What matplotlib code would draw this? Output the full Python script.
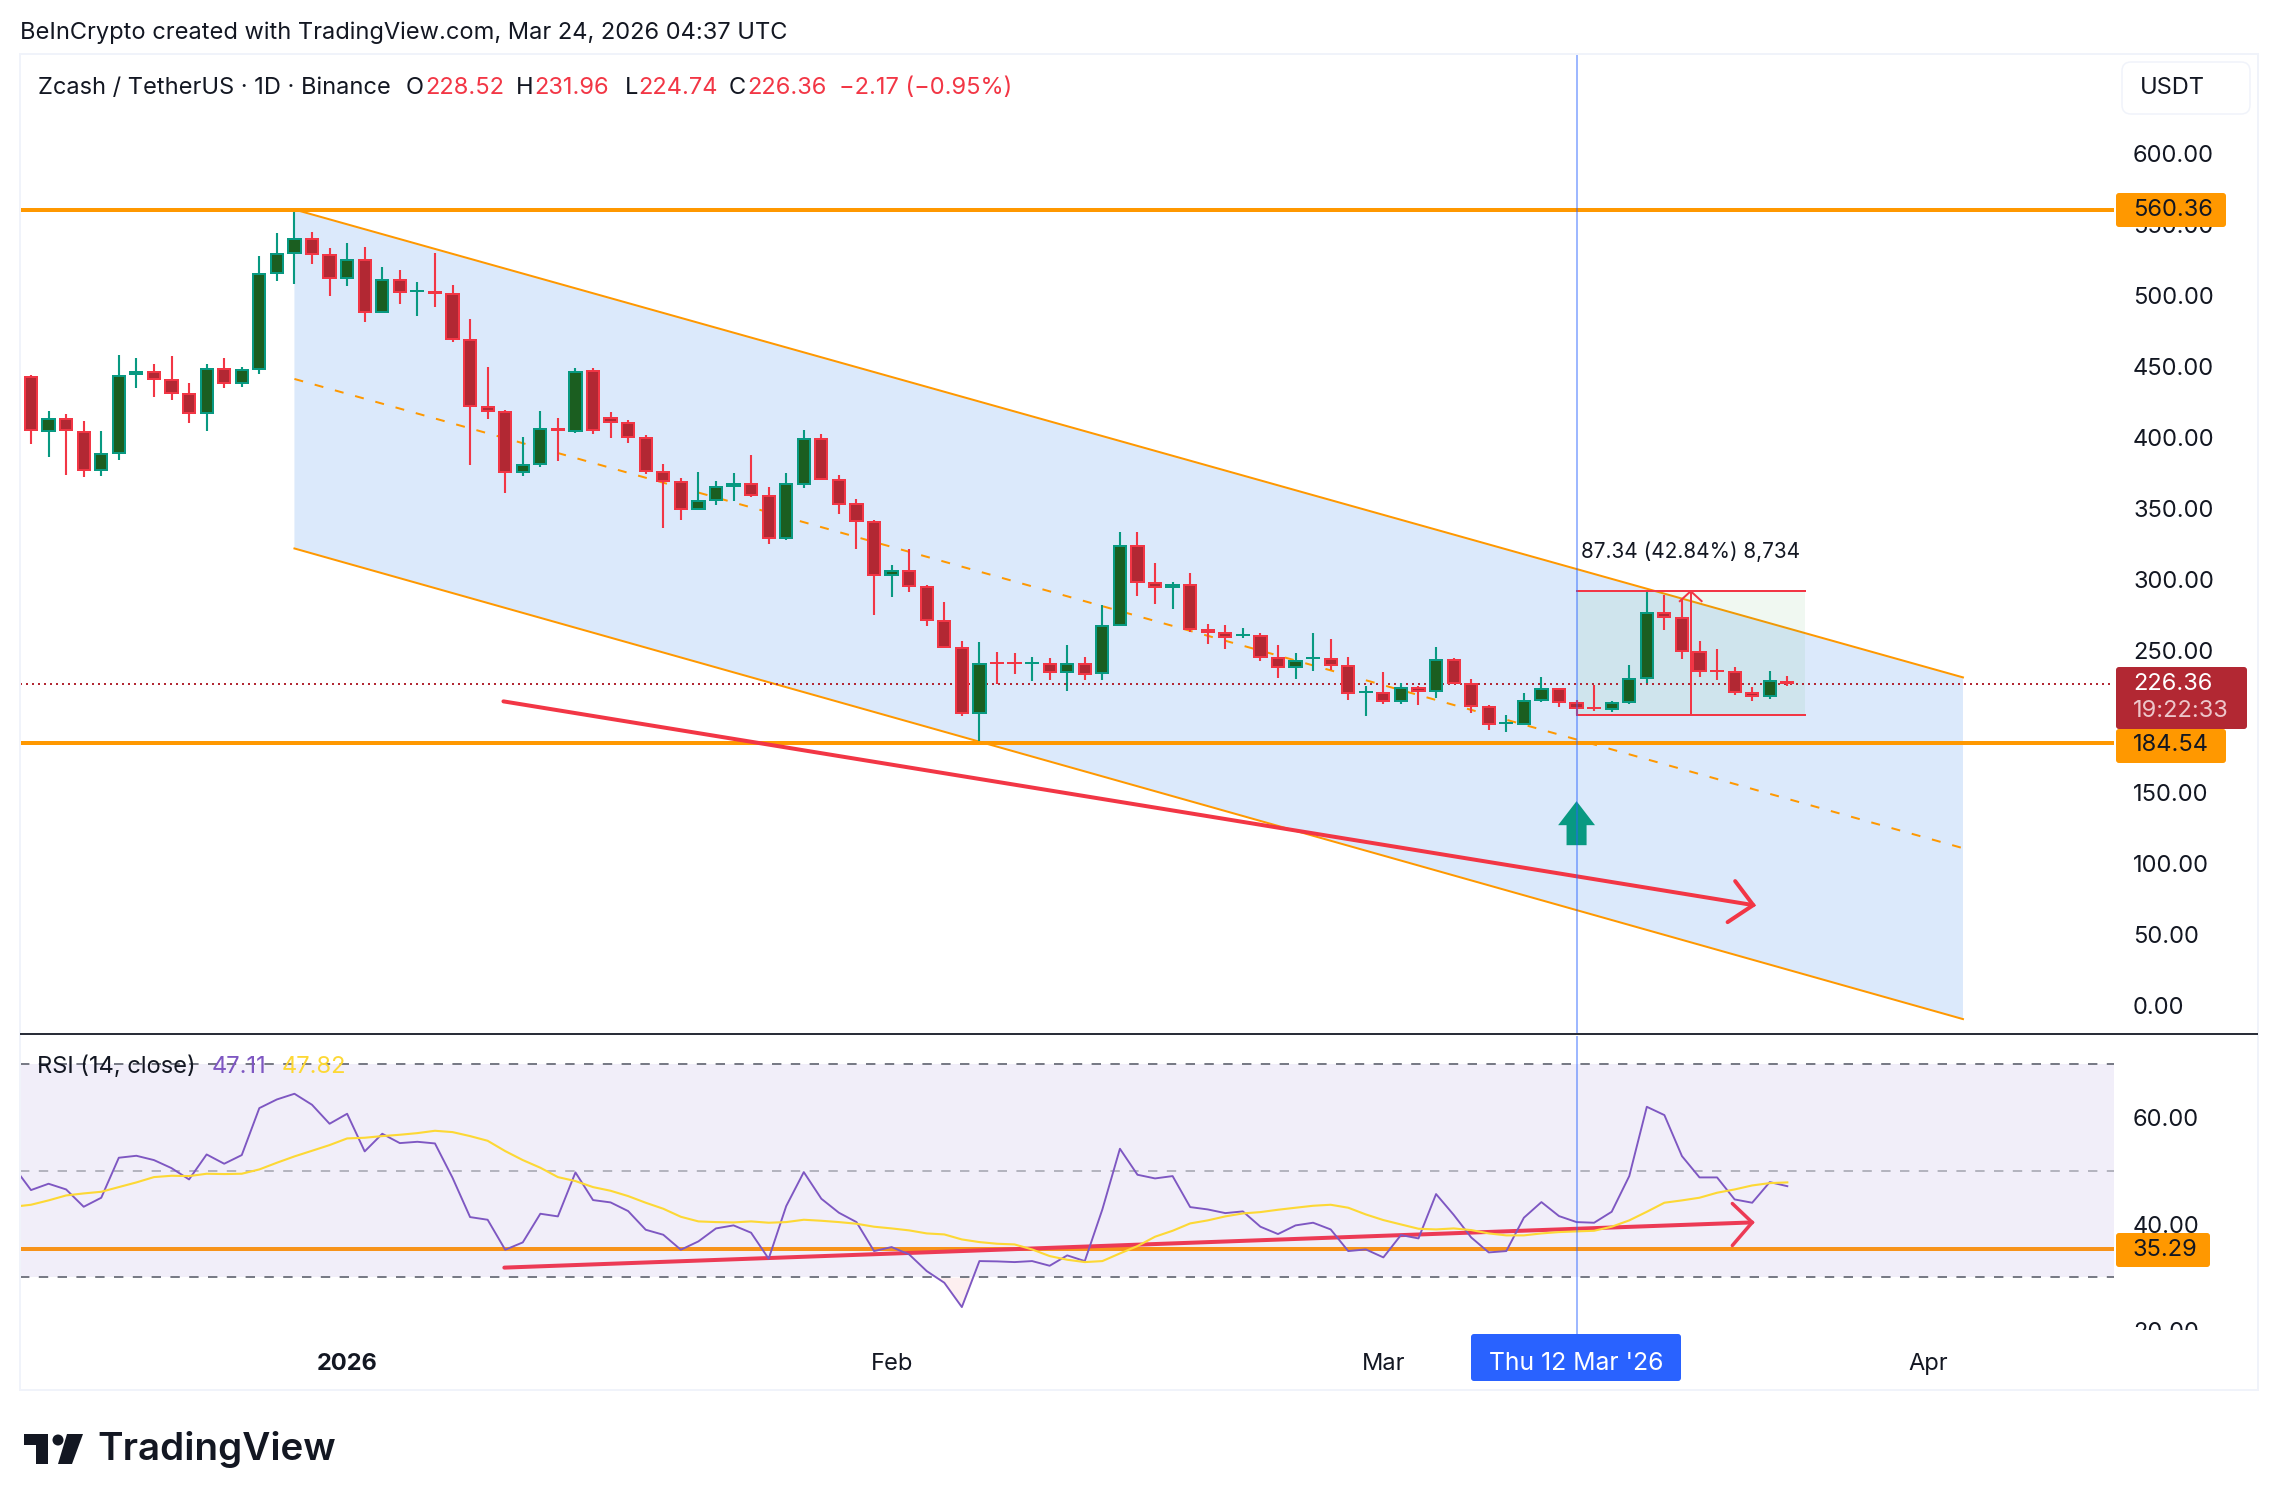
import matplotlib
matplotlib.use("Agg")
import matplotlib.pyplot as plt
from matplotlib.patches import Rectangle, FancyBboxPatch, Polygon, Circle
from matplotlib.transforms import Affine2D

plt.rcParams["font.family"] = ["Inter", "DejaVu Sans"]

W, H = 2278, 1510

# daily candles, index 0 is 14 Dec 2025, index 100 is 24 Mar 2026
opens = [443.4, 403.5, 413.8, 404.6, 376.0, 388.0, 443.6, 446.9, 441.2, 431.4,
         416.6, 449.0, 437.7, 447.6, 515.1, 529.2, 540.5, 529.2, 511.6, 525.7,
         487.7, 511.6, 502.5, 503.2, 501.8, 469.4, 422.2, 418.7, 375.1, 380.7,
         406.8, 403.9, 447.6, 414.5, 410.9, 400.4, 376.5, 369.4, 349.0, 355.3,
         365.2, 368.0, 359.6, 328.6, 366.6, 399.7, 370.8, 353.9, 340.6, 302.5,
         306.1, 295.5, 270.9, 251.9, 204.7, 241.3, 241.3, 239.9, 240.6, 233.6,
         240.6, 232.9, 266.7, 323.7, 297.7, 293.5, 296.3, 264.6, 262.5, 259.7,
         260.4, 244.9, 237.2, 243.5, 244.2, 239.3, 219.6, 220.3, 213.2, 223.8,
         220.3, 243.5, 226.6, 210.4, 197.7, 197.0, 213.9, 223.1, 213.2, 209.7,
         207.6, 212.5, 229.4, 277.2, 273.0, 249.1, 235.7, 235.0, 220.2, 216.7,
         228.52]
highs = [444.1, 418.7, 416.6, 411.7, 404.6, 458.1, 456.0, 451.8, 457.4, 438.4,
         451.8, 456.0, 449.7, 527.8, 544.0, 560.2, 544.7, 533.4, 537.0, 534.1,
         520.1, 518.0, 509.5, 529.9, 507.4, 483.5, 449.7, 419.4, 400.4, 418.7,
         413.8, 449.0, 449.0, 418.0, 412.3, 401.8, 381.4, 371.5, 375.7, 369.4,
         375.0, 387.7, 365.2, 375.0, 405.3, 402.5, 373.6, 356.7, 342.0, 310.3,
         320.9, 296.2, 283.6, 256.1, 255.4, 248.4, 247.7, 245.5, 244.8, 253.3,
         245.5, 281.5, 332.9, 332.9, 311.1, 297.7, 304.0, 268.1, 267.4, 265.3,
         261.8, 253.3, 247.7, 261.8, 257.6, 244.9, 224.5, 234.3, 226.6, 224.5,
         251.9, 244.2, 229.4, 211.1, 204.1, 219.5, 230.8, 223.1, 214.6, 225.2,
         213.9, 239.2, 291.3, 288.5, 285.7, 256.1, 250.5, 237.8, 223.8, 235.0,
         231.96]
lows = [395.5, 386.3, 373.7, 371.6, 372.3, 384.2, 434.9, 428.6, 426.5, 410.3,
        404.6, 434.9, 435.6, 444.8, 510.2, 508.1, 522.2, 499.7, 506.7, 481.4,
        487.7, 494.0, 485.6, 491.9, 467.3, 380.7, 413.1, 361.0, 372.3, 379.3,
        383.5, 403.2, 402.5, 399.7, 396.2, 374.3, 336.3, 342.0, 349.0, 352.5,
        355.3, 358.2, 325.1, 327.9, 364.5, 370.1, 346.2, 320.9, 274.4, 287.1,
        290.6, 266.7, 251.2, 203.3, 185.0, 225.8, 232.9, 228.0, 228.7, 220.9,
        228.7, 228.7, 266.7, 287.8, 282.2, 278.7, 262.5, 254.0, 250.5, 258.3,
        242.1, 230.1, 229.4, 235.0, 235.8, 214.6, 203.4, 211.8, 211.8, 211.1,
        216.0, 225.9, 205.5, 193.5, 192.1, 197.0, 213.2, 209.7, 204.1, 206.9,
        206.2, 211.8, 226.6, 263.9, 243.5, 230.8, 228.7, 218.1, 213.9, 215.3,
        224.74]
closes = [404.2, 413.8, 404.2, 376.0, 388.5, 444.1, 446.9, 440.5, 430.7, 416.6,
          449.0, 437.7, 448.3, 515.8, 529.9, 540.5, 528.5, 511.6, 525.7, 487.7,
          511.6, 501.8, 503.9, 501.1, 468.7, 421.5, 418.0, 375.1, 381.4, 406.8,
          404.0, 446.9, 404.0, 410.2, 399.7, 375.7, 368.7, 349.0, 356.0, 365.9,
          368.0, 358.9, 328.6, 368.0, 399.7, 370.1, 352.5, 339.9, 302.5, 306.1,
          294.8, 270.2, 251.2, 204.7, 240.6, 239.9, 239.9, 241.3, 233.6, 240.6,
          232.2, 267.4, 323.7, 297.0, 293.5, 296.3, 263.9, 261.8, 258.3, 261.1,
          244.2, 237.2, 242.8, 244.9, 238.6, 218.9, 221.0, 213.2, 223.8, 220.3,
          243.5, 225.9, 209.7, 197.0, 199.2, 214.6, 223.1, 212.5, 208.3, 208.3,
          213.2, 230.1, 277.2, 272.3, 248.4, 234.3, 234.3, 219.5, 216.7, 228.7,
          226.36]

# first value of both RSI lists belongs to the day before the first candle
rsi = [50.83, 46.38, 47.57, 46.50, 43.24, 44.94, 52.46, 52.83, 52.02, 50.51,
       48.38, 53.08, 51.33, 52.96, 61.79, 63.42, 64.49, 62.42, 58.85, 60.73,
       53.65, 56.97, 55.21, 55.46, 55.15, 48.70, 41.30, 40.80, 35.16, 36.54,
       41.93, 41.43, 49.70, 44.50, 44.06, 42.43, 38.92, 37.98, 35.16, 36.73,
       39.17, 39.74, 38.36, 33.47, 43.37, 49.76, 44.75, 42.12, 40.36, 34.91,
       35.66, 34.28, 31.15, 28.96, 24.38, 33.03, 32.97, 32.84, 33.03, 32.15,
       34.10, 33.03, 42.74, 54.15, 49.26, 48.57, 49.01, 43.18, 42.74, 42.05,
       42.37, 39.49, 38.11, 39.74, 40.24, 38.98, 34.91, 35.22, 33.72, 37.92,
       37.29, 45.63, 41.74, 37.48, 34.66, 34.91, 41.18, 44.12, 41.49, 40.36,
       40.24, 42.30, 49.01, 62.04, 60.48, 52.77, 48.76, 48.76, 44.62, 44.00,
       47.88, 47.11]
rsi_ma = [43.24, 43.62, 44.44, 45.37, 45.75, 46.06, 46.94, 47.82, 48.82, 49.07,
          49.01, 49.45, 49.39, 49.45, 50.26, 51.52, 52.71, 53.77, 54.84, 56.09,
          56.22, 56.53, 56.78, 57.09, 57.53, 57.28, 56.53, 55.65, 53.71, 52.02,
          50.58, 48.82, 48.07, 46.94, 46.25, 45.25, 44.00, 42.87, 41.36, 40.49,
          40.36, 40.30, 40.49, 40.24, 40.36, 40.80, 40.61, 40.36, 40.05, 39.49,
          39.17, 38.80, 38.23, 38.04, 37.10, 36.60, 36.29, 36.16, 35.22, 33.97,
          33.28, 32.84, 33.03, 34.47, 35.85, 37.61, 38.73, 40.11, 40.68, 41.43,
          41.99, 42.24, 42.68, 43.06, 43.43, 43.62, 43.06, 41.80, 40.74, 39.92,
          39.11, 38.98, 39.17, 38.86, 38.23, 37.86, 37.86, 38.23, 38.48, 38.61,
          38.73, 39.49, 40.68, 42.30, 44.00, 44.44, 44.94, 45.88, 46.50, 47.25,
          47.69, 47.82]

price_ticks = [0, 50, 100, 150, 200, 250, 300, 350, 400, 450, 500, 550, 600]
rsi_ticks = [20, 40, 60]
date_ticks = [18, 49, 77, 108]
date_labels = ["2026", "Feb", "Mar", "Apr"]

# drawn objects on the chart, (candle index, price)
channel_top = [(15, 560.36), (110, 230.8)]
channel_mid = [(15, 441.0), (110, 110.5)]
channel_low = [(15, 321.6), (110, -9.9)]
support_hi = 560.36
support_lo = 184.54
rsi_support = 35.29
last_close = 226.36
cross_idx = 88
range_left, range_right = 88, 101
range_top, range_bottom = 291.5, 204.1
range_arrow_idx = 94.5

UP = "#089981"
DOWN = "#F23645"
UP_FILL = "#1B5E20"
DOWN_FILL = "#B22833"
ORANGE = "#FF9800"
TEXT = "#131722"
CHANNEL = "#DBE9FB"
FS = 17


def lw(pixels):
    return pixels * 0.72


fig = plt.figure(figsize=(W / 100, H / 100), dpi=100, facecolor="white")
px = Affine2D().scale(1, -1).translate(0, H)


def make_axes(left, top, right, bottom):
    a = fig.add_axes([left / W, 1 - bottom / H, (right - left) / W, (bottom - top) / H])
    a.patch.set_alpha(0)
    for s in a.spines.values():
        s.set_visible(False)
    a.yaxis.tick_right()
    a.tick_params(axis="both", length=0, labelsize=FS, labelcolor=TEXT)
    a.tick_params(axis="y", pad=13.7)
    return a


def px_text(x, y, s, **kw):
    kw.setdefault("color", TEXT)
    kw.setdefault("fontsize", FS)
    kw.setdefault("va", "center")
    return fig.text(x, y, s, transform=px, zorder=5, **kw)


def px_box(x0, y0, x1, y1, color, z=3):
    fig.patches.append(FancyBboxPatch((x0, y0), x1 - x0, y1 - y0,
                                      boxstyle="round,pad=0,rounding_size=3",
                                      fc=color, ec="none", transform=px,
                                      figure=fig, zorder=z))


# ---- main pane
ax = make_axes(20, 54, 2114, 1034)
ax.set_xlim(-0.626, 118.6)
ax.set_ylim(-20.4, 669.9)

ax.fill([channel_top[0][0], channel_top[1][0], channel_low[1][0], channel_low[0][0]],
        [channel_top[0][1], channel_top[1][1], channel_low[1][1], channel_low[0][1]],
        color=CHANNEL, lw=0, zorder=1)
ax.plot(*zip(*channel_top), color=ORANGE, lw=lw(2), zorder=2)
ax.plot(*zip(*channel_low), color=ORANGE, lw=lw(2), zorder=2)
ax.plot(*zip(*channel_mid), color=ORANGE, lw=lw(2), ls=(0, (4.5, 6)), zorder=2)

ax.axhline(last_close, color=DOWN_FILL, lw=lw(2), ls=(0, (1, 2)), zorder=2.5)

# measure box
ax.add_patch(Rectangle((range_left, range_bottom), range_right - range_left,
                       range_top - range_bottom, fc="#4CAF50", alpha=0.08, lw=0, zorder=2.2))

# candles
inset = 2 / 1.42
for i in range(len(opens)):
    up = closes[i] >= opens[i]
    edge = UP if up else DOWN
    fill = UP_FILL if up else DOWN_FILL
    ax.plot([i, i], [lows[i], highs[i]], color=edge, lw=lw(2.1), solid_capstyle="butt", zorder=3)
    top = max(opens[i], closes[i])
    bot = min(opens[i], closes[i])
    ax.bar(i, top - bot, bottom=bot, width=0.81, color=edge, lw=0, zorder=3.1)
    if top - bot > 2 * inset:
        ax.bar(i, top - bot - 2 * inset, bottom=bot + inset, width=0.58, color=fill, lw=0, zorder=3.2)

ax.axhline(support_hi, color=ORANGE, lw=lw(4), zorder=4)
ax.axhline(support_lo, color=ORANGE, lw=lw(4), zorder=4)

for p in (range_top, range_bottom):
    ax.plot([range_left, range_right], [p, p], color=DOWN, lw=lw(2), zorder=4)
ax.plot([range_arrow_idx, range_arrow_idx], [range_bottom, range_top], color=DOWN, lw=lw(2), zorder=4)
ax.plot([range_arrow_idx - 0.62, range_arrow_idx, range_arrow_idx + 0.62],
        [range_top - 7, range_top, range_top - 7], color=DOWN, lw=lw(2), zorder=4)

# falling momentum line with its arrow head
ax.plot([26.9, 98.06], [213.9, 70.4], color=DOWN, lw=lw(4), solid_capstyle="round", zorder=4.5)
ax.plot([97.03, 98.06, 96.6], [87.3, 70.4, 58.4], color=DOWN, lw=lw(4),
        solid_capstyle="round", solid_joinstyle="miter", zorder=4.5)

# green marker under the crosshair
ax.fill([cross_idx, cross_idx + 1.05, cross_idx + 0.57, cross_idx + 0.57,
         cross_idx - 0.57, cross_idx - 0.57, cross_idx - 1.05],
        [143.6, 126.7, 126.7, 112.6, 112.6, 126.7, 126.7], color=UP, lw=0, zorder=4.6)

ax.axvline(cross_idx, color="#2962FF", alpha=0.45, lw=lw(2), zorder=5)

ax.set_xticks([])
ax.set_yticks(price_ticks)
ax.set_yticklabels(["%.2f" % t for t in price_ticks])

# ---- RSI pane
ar = make_axes(20, 1036, 2114, 1345)
ar.set_xlim(-0.626, 118.6)
ar.set_ylim(17.25, 75.35)
ar.axhspan(30, 70, color="#F1EEF9", lw=0, zorder=1)
ar.axhline(70, color="#787B86", lw=lw(2), ls=(0, (4.7, 4.7)), zorder=2)
ar.axhline(30, color="#787B86", lw=lw(2), ls=(0, (4.7, 4.7)), zorder=2)
ar.axhline(50, color="#787B86", alpha=0.5, lw=lw(2), ls=(0, (4.7, 4.7)), zorder=2)

xs = list(range(-1, len(opens)))
ar.fill_between(xs, rsi, 30, where=[v < 30 for v in rsi], interpolate=True,
                color=DOWN, alpha=0.08, lw=0, zorder=1.5)
ar.axhline(rsi_support, color="#F7931A", lw=lw(4), zorder=3)
ar.plot([26.95, 98.0], [31.8, 40.3], color="#EC3A55", lw=lw(4), solid_capstyle="round", zorder=3.5)
ar.plot(xs, rsi, color="#7E57C2", lw=lw(1.9), zorder=4)
ar.plot(xs, rsi_ma, color="#FDD835", lw=lw(2.1), zorder=4.2)
ar.plot([96.87, 98.0, 96.87], [43.85, 40.3, 35.96], color="#EC3A55", lw=lw(3.5),
        solid_capstyle="round", solid_joinstyle="miter", zorder=4.5)
ar.axvline(cross_idx, color="#2962FF", alpha=0.45, lw=lw(2), zorder=5)

ar.set_yticks(rsi_ticks)
ar.set_yticklabels(["%.2f" % t for t in rsi_ticks])
ar.set_xticks(date_ticks)
ar.set_xticklabels(date_labels)
ar.tick_params(axis="x", pad=6)
ar.get_xticklabels()[0].set_fontweight("bold")

# ---- frame, separators and boxes drawn on the figure
fig.patches.append(Rectangle((20, 54), 2238, 1336, fc="none", ec="#F0F3FA", lw=lw(2),
                             transform=px, figure=fig, zorder=1))
fig.patches.append(Rectangle((2116, 1330), 140, 24, fc="white", ec="none",
                             transform=px, figure=fig, zorder=1.5))
fig.patches.append(Rectangle((20, 1033), 2238, 2, fc="#2A2E39", ec="none",
                             transform=px, figure=fig, zorder=2))

fig.patches.append(FancyBboxPatch((2122, 62), 128, 52, boxstyle="round,pad=0,rounding_size=9",
                                  fc="white", ec="#F0F3FA", lw=lw(1.5), transform=px,
                                  figure=fig, zorder=2))
px_text(2140, 88, "USDT")

px_box(2116, 193, 2226, 227, ORANGE)
px_text(2133, 210, "560.36")
px_box(2116, 667, 2247, 729, DOWN_FILL)
px_text(2133, 684, "226.36", color="white")
px_text(2133, 711, "19:22:33", color="#EDC6CA")
px_box(2116, 729, 2226, 763, ORANGE)
px_text(2133, 745, "184.54")
px_box(2116, 1233, 2210, 1267, ORANGE)
px_text(2133, 1250, "35.29")

px_box(1471, 1334, 1681, 1381, "#2962FF")
px_text(1576, 1363, "Thu 12 Mar '26", color="white", ha="center", fontsize=17.8)

px_text(1581, 552, "87.34 (42.84%) 8,734", fontsize=14.9)

# ---- header texts
px_text(20, 33, "BeInCrypto created with TradingView.com, Mar 24, 2026 04:37 UTC")
px_text(38, 88, "Zcash / TetherUS · 1D · Binance")
for x, s, c in [(406, "O", TEXT), (425, "228.52", DOWN), (516, "H", TEXT), (534, "231.96", DOWN),
                (625, "L", TEXT), (638, "224.74", DOWN), (729, "C", TEXT), (747, "226.36", DOWN),
                (839, "−2.17 (−0.95%)", DOWN)]:
    px_text(x, 88, s, color=c)

px_text(37, 1067, "RSI (14, close)")
px_text(212, 1067, "47.11", color="#7E57C2")
px_text(282, 1067, "47.82", color="#FDD835")

# ---- logo
for shape in ([(24, 1434), (48, 1434), (48, 1464), (36, 1464), (36, 1445), (24, 1445)],
              [(67, 1434), (83, 1434), (72, 1464), (58, 1464)]):
    fig.patches.append(Polygon(shape, fc="#131722", ec="none", transform=px, figure=fig, zorder=2))
fig.patches.append(Circle((58, 1440), 5.5, fc="#131722", ec="none", transform=px, figure=fig, zorder=2))
px_text(97, 1450, "TradingView", fontsize=27.8, fontweight="semibold")

fig.savefig("out.png", dpi=100)
